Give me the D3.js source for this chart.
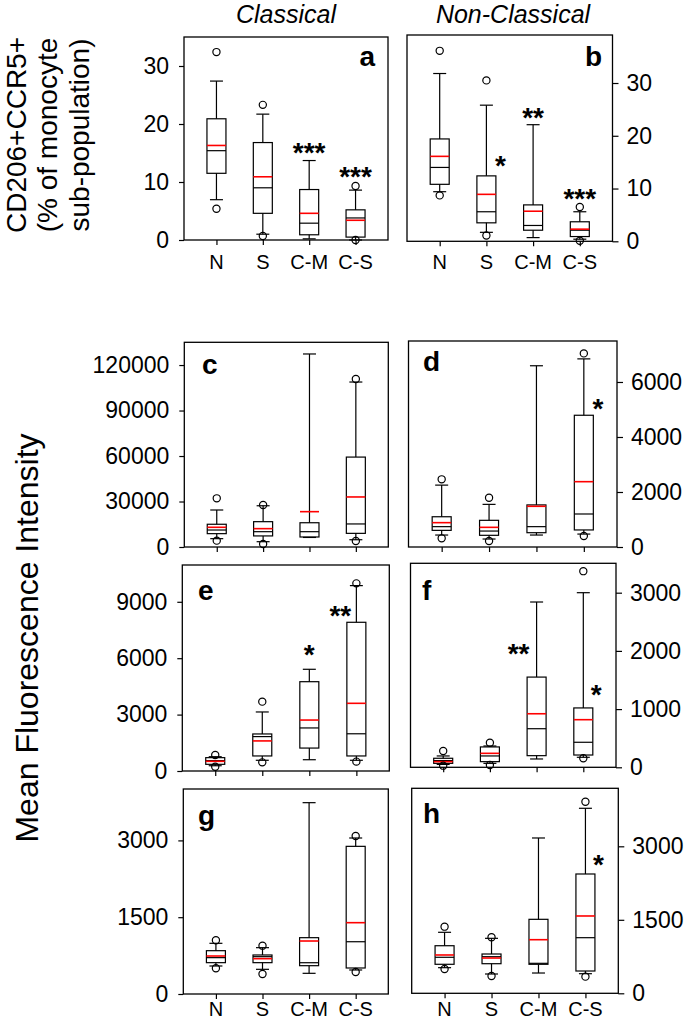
<!DOCTYPE html>
<html><head><meta charset="utf-8">
<script src="https://cdn.jsdelivr.net/npm/d3@7"></script>
<style>body{margin:0;background:#fff} text{font-family:"Liberation Sans",Arial,Helvetica,sans-serif}</style>
</head><body><svg id="chart" width="685" height="1022"></svg>
<script>
// ---------------- DATA ----------------
const categories = ["N", "S", "C-M", "C-S"];
const panelIds = ["a", "b", "c", "d", "e", "f", "g", "h"];
const columnTitles = ["Classical", "Non-Classical"];
const topAxisTitle = ["CD206+CCR5+", "(% of monocyte", "sub-population)"];
const bottomAxisTitle = "Mean Fluorescence Intensity";

// y-axis extent and tick values per panel
const axisMax = [35, 39.1, 135000, 7490, 10957, 3505, 4004, 4184];
const tickValues = [
  [0, 10, 20, 30],
  [0, 10, 20, 30],
  [0, 30000, 60000, 90000, 120000],
  [0, 2000, 4000, 6000],
  [0, 3000, 6000, 9000],
  [0, 1000, 2000, 3000],
  [0, 1500, 3000],
  [0, 1500, 3000]
];

// box statistics per panel (rows) and category (N, S, C-M, C-S)
const whiskerLow = [
  [6.95, 1.0, 0.2, 0.0],
  [9.4, 1.7, 0.7, 0.4],
  [5500, 3500, 6300, 4800],
  [435, 290, 435, 470],
  [280, 570, 600, 570],
  [50, 68, 143, 172],
  [547, 482, 404, 469],
  [523, 394, 414, 400]
];
const quartile1 = [
  [11.5, 4.6, 0.9, 0.5],
  [10.8, 3.5, 2.1, 0.9],
  [8800, 7300, 6600, 9000],
  [605, 425, 520, 620],
  [355, 800, 1220, 800],
  [68, 97, 200, 211],
  [612, 612, 553, 508],
  [592, 604, 592, 455]
];
const medians = [
  [15.4, 9.0, 2.9, 3.8],
  [14.0, 5.6, 3.0, 2.1],
  [11200, 10100, 10100, 15200],
  [740, 580, 740, 1200],
  [550, 1830, 2290, 1980],
  [115, 195, 663, 430],
  [710, 729, 611, 1021],
  [735, 747, 612, 1135]
];
const quartile3 = [
  [20.9, 16.8, 8.7, 5.2],
  [19.4, 12.4, 6.9, 3.7],
  [15000, 16700, 16000, 59300],
  [1100, 970, 1530, 4790],
  [710, 1970, 4750, 7910],
  [155, 350, 1550, 1020],
  [846, 762, 1100, 2884],
  [971, 802, 1510, 2435]
];
const whiskerHigh = [
  [27.4, 21.7, 13.7, 8.6],
  [31.8, 25.8, 22.1, 5.6],
  [24400, 27200, 127300, 108800],
  [2250, 1550, 6590, 6840],
  [760, 3140, 5410, 9860],
  [195, 366, 2840, 3000],
  [990, 905, 3737, 3047],
  [1245, 1122, 3170, 3776]
];
const means = [
  [16.3, 10.9, 4.6, 3.4],
  [16.1, 8.9, 5.7, 2.3],
  [13000, 12100, 23300, 33000],
  [885, 715, 1480, 2375],
  [515, 1600, 2710, 3600],
  [97, 240, 920, 818],
  [742, 690, 1035, 1393],
  [782, 720, 1094, 1578]
];
const outliers = [
  [[32.4, 5.4], [23.3, 0.7], [], [9.3, 0]],
  [[36.1, 8.7], [30.5, 1.1], [], [6.5, 0.1]],
  [[32100, 4200], [27700, 2000], [], [110800, 4000]],
  [[2460, 315], [1790, 220], [], [7040, 400]],
  [[850, 230], [3690, 460], [], [9980, 500]],
  [[280, 28], [423, 40], [], [3370, 155]],
  [[1050, 502], [944, 390], [], [3086, 430]],
  [[1360, 496], [1143, 353], [], [3910, 340]]
];
// significance marks and the value level they sit at
const sigLabels = [
  ["", "", "***", "***"],
  ["", "*", "**", "***"],
  ["", "", "", ""],
  ["", "", "", "*"],
  ["", "", "*", "**"],
  ["", "", "**", "*"],
  ["", "", "", ""],
  ["", "", "", "*"]
];
const sigLevels = [
  [null, null, 16.0, 11.9],
  [null, 15.4, 24.4, 9.0],
  [null, null, null, null],
  [null, null, null, 5225],
  [null, null, 6475, 8560],
  [null, null, 2045, 1340],
  [null, null, null, null],
  [null, null, null, 2735]
];

// ---------------- LAYOUT ----------------
const frames = [
  {L:184,   R:388,   T:37,    B:240,   side:"left",  lx:375, ly:66,  la:"end",   xl:269},
  {L:407,   R:612.5, T:35,    B:241.3, side:"right", lx:602, ly:66,  la:"end",   xl:269},
  {L:184.3, R:388.3, T:342.3, B:547,   side:"left",  lx:202, ly:374, la:"start", xl:null},
  {L:408.5, R:617,   T:341,   B:547,   side:"right", lx:423, ly:371, la:"start", xl:null},
  {L:182.3, R:389.3, T:565,   B:771,   side:"left",  lx:198, ly:600, la:"start", xl:null},
  {L:410.5, R:616,   T:563.3, B:767.3, side:"right", lx:422, ly:600, la:"start", xl:null},
  {L:183.3, R:388.3, T:789,   B:994,   side:"left",  lx:198, ly:825, la:"start", xl:1016},
  {L:411.7, R:618.3, T:788.3, B:993.3, side:"right", lx:423, ly:823, la:"start", xl:1016}
];
const sigOffsets = [
  [0,0,0,0],[0,14,0,0],[0,0,0,0],[0,0,0,14],
  [0,0,0,-16],[0,0,-18,13],[0,0,0,0],[0,0,0,13]
];

const svg = d3.select("#chart");
svg.append("rect").attr("width",685).attr("height",1022).attr("fill","#fff");

const BW = 19, CAP = 13, SW = 1.2;

panelIds.forEach((id, p) => {
  const f = frames[p];
  const g = svg.append("g");
  const x = d3.scalePoint().domain(categories).range([f.L, f.R]).padding(0.7);
  const y = d3.scaleLinear().domain([0, axisMax[p]]).range([f.B, f.T]);

  // y axis
  const ax = (f.side === "left" ? d3.axisLeft(y).tickSize(5).tickPadding(10)
                                : d3.axisRight(y).tickSize(6).tickPadding(8))
      .tickValues(tickValues[p]).tickFormat(d3.format("d"));
  const ag = g.append("g")
      .attr("transform", `translate(${f.side === "left" ? f.L : f.R},0)`)
      .call(ax);
  ag.select(".domain").remove();
  ag.selectAll("line").attr("stroke","#000").attr("stroke-width",SW);
  ag.selectAll("text").attr("font-size",23).attr("fill","#000")
    .attr("font-family",'"Liberation Sans",Arial,sans-serif');

  // x axis ticks
  const xg = g.append("g").attr("transform",`translate(0,${f.B})`)
      .call(d3.axisBottom(x).tickSize(5).tickFormat(""));
  xg.select(".domain").remove();
  xg.selectAll("line").attr("stroke","#000").attr("stroke-width",SW);
  if (f.xl !== null) {
    g.selectAll(".xlab").data(categories).enter().append("text")
      .attr("x", d => x(d)).attr("y", f.xl).attr("text-anchor","middle")
      .attr("font-size",20).attr("fill","#000").text(d => d);
  }

  // boxes
  categories.forEach((c, i) => {
    const cx = x(c);
    const bg = g.append("g").attr("stroke","#000").attr("stroke-width",SW).attr("fill","none");
    const wl = whiskerLow[p][i], q1 = quartile1[p][i], md = medians[p][i],
          q3 = quartile3[p][i], wh = whiskerHigh[p][i], mn = means[p][i];
    bg.append("line").attr("x1",cx).attr("x2",cx).attr("y1",y(q3)).attr("y2",y(wh));
    bg.append("line").attr("x1",cx).attr("x2",cx).attr("y1",y(q1)).attr("y2",y(wl));
    bg.append("line").attr("x1",cx-CAP/2).attr("x2",cx+CAP/2).attr("y1",y(wh)).attr("y2",y(wh));
    bg.append("line").attr("x1",cx-CAP/2).attr("x2",cx+CAP/2).attr("y1",y(wl)).attr("y2",y(wl));
    bg.append("rect").attr("x",cx-BW/2).attr("width",BW)
      .attr("y",y(q3)).attr("height",y(q1)-y(q3));
    bg.append("line").attr("x1",cx-BW/2).attr("x2",cx+BW/2).attr("y1",y(md)).attr("y2",y(md));
    bg.append("line").attr("x1",cx-BW/2).attr("x2",cx+BW/2).attr("y1",y(mn)).attr("y2",y(mn))
      .attr("stroke","#ff0000").attr("stroke-width",1.6);
    outliers[p][i].forEach(v => {
      bg.append("circle").attr("cx",cx).attr("cy",y(v)).attr("r",3.6);
    });
    if (sigLabels[p][i]) {
      g.append("text").attr("x", cx + sigOffsets[p][i])
        .attr("y", y(sigLevels[p][i]) + 0.52*28)
        .attr("text-anchor","middle").attr("font-size",28).attr("font-weight","bold")
        .attr("fill","#000").text(sigLabels[p][i]);
    }
  });

  // frame
  g.append("rect").attr("x",f.L).attr("y",f.T).attr("width",f.R-f.L).attr("height",f.B-f.T)
    .attr("fill","none").attr("stroke","#000").attr("stroke-width",1.3);

  // panel letter
  g.append("text").attr("x",f.lx).attr("y",f.ly).attr("text-anchor",f.la)
    .attr("font-size",28).attr("font-weight","bold").attr("fill","#000").text(id);
});

// column titles
[286, 513].forEach((cx, k) => {
  svg.append("text").attr("x",cx).attr("y",23).attr("text-anchor","middle")
    .attr("font-size",25).attr("font-style","italic").attr("fill","#000").text(columnTitles[k]);
});

// top y title (3 lines)
[26, 57, 89].forEach((bx, k) => {
  svg.append("text").attr("transform",`translate(${bx},135) rotate(-90)`)
    .attr("text-anchor","middle").attr("font-size",28).attr("fill","#000").text(topAxisTitle[k]);
});
// bottom y title
svg.append("text").attr("transform","translate(38,638) rotate(-90)")
  .attr("text-anchor","middle").attr("font-size",32).attr("fill","#000").text(bottomAxisTitle);
</script></body></html>
